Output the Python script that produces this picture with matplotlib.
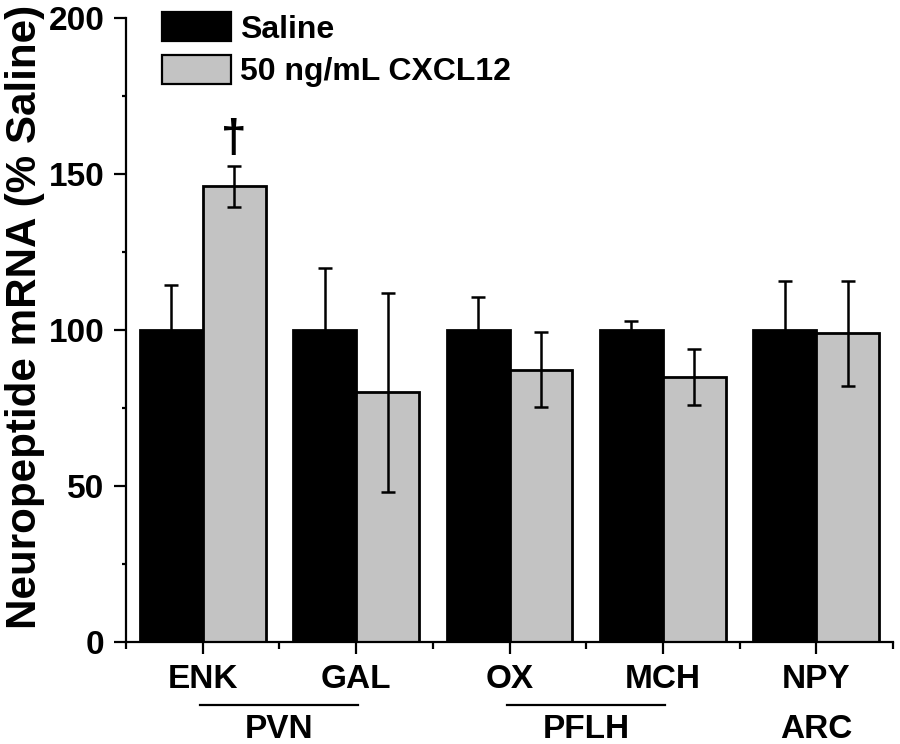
import matplotlib
matplotlib.use("Agg")
import matplotlib.pyplot as plt
import matplotlib.transforms as mtransforms
from matplotlib.patches import Patch

categories = ["ENK", "GAL", "OX", "MCH", "NPY"]
regions = ["PVN", "PFLH", "ARC"]
region_spans = [(1, 2), (3, 4), (5, 5)]
saline = [100, 100, 100, 100, 100]
saline_err = [14.5, 20, 10.5, 3, 15.7]
cxcl12 = [146, 80, 87.2, 85, 99]
cxcl12_err = [6.5, 32, 12, 9, 16.8]
series_names = ["Saline", "50 ng/mL CXCL12"]
yticks = [0, 50, 100, 150, 200]

plt.rcParams['font.family'] = ['Liberation Sans', 'DejaVu Sans']
plt.rcParams['font.weight'] = 'bold'

fig = plt.figure(figsize=(9, 7.44), dpi=100)
ax = fig.add_axes([126/900, 1-642/744, (893-126)/900, (642-18)/744])

x = list(range(1, len(categories)+1))
w = 0.41
gray = '#c3c3c3'
ax.bar([xi - w/2 for xi in x], saline, width=w, color='black', edgecolor='black', linewidth=2.0, zorder=2)
ax.bar([xi + w/2 for xi in x], cxcl12, width=w, color=gray, edgecolor='black', linewidth=2.0, zorder=2)
ax.errorbar([xi - w/2 for xi in x], saline, yerr=saline_err, fmt='none', ecolor='black', elinewidth=1.8, capsize=4.8, capthick=1.8, zorder=3)
ax.errorbar([xi + w/2 for xi in x], cxcl12, yerr=cxcl12_err, fmt='none', ecolor='black', elinewidth=1.8, capsize=4.8, capthick=1.8, zorder=3)

ax.text(1 + w/2, 161.0, "†", ha='center', va='center', fontsize=33, fontweight='bold')

ax.set_xlim(0.5, len(categories) + 0.5)
ax.set_ylim(0, 200)
ax.set_yticks(yticks)
ax.set_yticks([25, 75, 125, 175], minor=True)
ax.set_xticks(x)
ax.set_xticklabels(categories)
ax.set_xticks([i + 0.5 for i in range(0, len(categories)+1)], minor=True)

for s in ['top', 'right']:
    ax.spines[s].set_visible(False)
for s in ['left', 'bottom']:
    ax.spines[s].set_linewidth(1.6)

ax.tick_params(axis='both', which='major', direction='out', length=8.5, width=1.6, labelsize=24)
ax.tick_params(axis='y', which='minor', direction='out', length=3, width=1.6)
ax.tick_params(axis='x', which='minor', direction='out', length=5, width=1.6)
ax.tick_params(axis='x', which='major', pad=7)
ax.tick_params(axis='y', which='major', pad=7)
for lab in ax.get_xticklabels() + ax.get_yticklabels():
    lab.set_fontweight('bold')

fig.text(25/900, 1-317/744, "Neuropeptide mRNA (% Saline)", rotation=90,
         ha='center', va='center', fontsize=30.3, fontweight='bold')

trans = mtransforms.blended_transform_factory(ax.transData, ax.transAxes)
for name, (a, b) in zip(regions, region_spans):
    if b > a:
        ax.plot([a - 0.015, b + 0.015], [-0.101, -0.101], color='black', lw=1.6,
                transform=trans, clip_on=False)
    ax.text((a + b) / 2, -0.154, name, transform=trans, ha='center', va='baseline',
            fontsize=24, fontweight='bold')

handles = [Patch(facecolor='black', edgecolor='black', linewidth=1.6),
           Patch(facecolor=gray, edgecolor='black', linewidth=1.6)]
leg = fig.legend(handles, series_names, loc='upper left', bbox_to_anchor=(162/900, 1-12/744),
                 frameon=False, handlelength=2.16, handleheight=1.03,
                 handletextpad=0.28, labelspacing=0.32, borderpad=0, borderaxespad=0,
                 prop={'weight': 'bold', 'size': 23})

fig.savefig("out.png", dpi=100)
